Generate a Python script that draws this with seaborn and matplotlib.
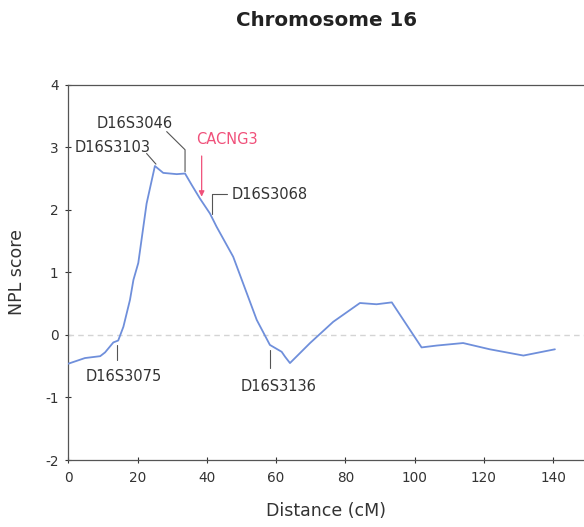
import matplotlib
matplotlib.use("Agg")
import matplotlib.pyplot as plt
import seaborn as sns
import pandas as pd

# NPL linkage scores along chromosome 16
distance_cm = [0, 4.8, 9.2, 10.6, 13.0, 14.4, 15.9, 17.8, 18.8, 20.2, 22.6, 25.0,
               27.4, 31.3, 33.7, 35.6, 38.0, 40.9, 42.8, 47.6, 54.4, 58.2, 61.6,
               62.6, 64.0, 69.8, 76.5, 84.2, 89.0, 93.4, 102.0, 106.4, 114.0,
               121.7, 131.4, 140.5]
npl_score = [-0.46, -0.37, -0.34, -0.28, -0.12, -0.09, 0.13, 0.56, 0.88, 1.15, 2.10, 2.70,
             2.59, 2.57, 2.58, 2.40, 2.18, 1.94, 1.73, 1.25, 0.24, -0.16, -0.27,
             -0.35, -0.45, -0.13, 0.21, 0.51, 0.49, 0.52, -0.20, -0.17, -0.13,
             -0.23, -0.33, -0.23]

x_ticks = [0, 20, 40, 60, 80, 100, 120, 140]
y_ticks = [-2, -1, 0, 1, 2, 3, 4]

# marker labels: name, text position, leader path
markers = ["D16S3103", "D16S3046", "D16S3068", "D16S3075", "D16S3136"]
marker_text_xy = [(12.7, 2.99), (19.2, 3.38), (47.2, 2.24), (16.0, -0.67), (60.8, -0.83)]
marker_text_ha = ["center", "center", "left", "center", "center"]
marker_leaders = [
    [(22.6, 2.90), (25.3, 2.73)],
    [(28.4, 3.25), (33.7, 2.96), (33.7, 2.61)],
    [(45.7, 2.25), (41.4, 2.25), (41.4, 1.94)],
    [(14.0, -0.16), (14.0, -0.40)],
    [(58.2, -0.24), (58.2, -0.53)],
]

gene_name = "CACNG3"
gene_text_xy = (45.7, 3.13)
gene_arrow = [(38.5, 2.86), (38.5, 2.21)]

sns.set_style("ticks")
plt.rcParams["font.family"] = ["DejaVu Sans"]
plt.rcParams["axes.unicode_minus"] = False

fig = plt.figure(figsize=(5.84, 5.27), dpi=100)
ax = fig.add_axes([0.117, 0.1271, 0.883, 0.7122])

df = pd.DataFrame({"Distance (cM)": distance_cm, "NPL score": npl_score})
sns.lineplot(data=df, x="Distance (cM)", y="NPL score", ax=ax,
             color="#6f8fdb", linewidth=1.3, zorder=3)

ax.axhline(0, color="#d4d4d4", linewidth=1.0, linestyle=(0, (4, 3)), zorder=1)

ax.set_xlim(0, 148.9)
ax.set_ylim(-2, 4)
ax.set_xticks(x_ticks)
ax.set_yticks(y_ticks)
ax.tick_params(axis="both", labelsize=9.8, colors="#333333", length=4,
               width=0.8, direction="inout")
ax.tick_params(axis="y", pad=5)
ax.tick_params(axis="x", pad=6)

for side in ["left", "bottom", "top"]:
    ax.spines[side].set_color("#555555")
    ax.spines[side].set_linewidth(0.9)
ax.spines["right"].set_visible(False)

ax.set_xlabel("Distance (cM)", fontsize=12.5, color="#333333", labelpad=12)
ax.set_ylabel("NPL score", fontsize=12.5, color="#333333", labelpad=14)

for name, (tx, ty), ha, path in zip(markers, marker_text_xy, marker_text_ha, marker_leaders):
    ax.text(tx, ty, name, fontsize=10.5, color="#333333", ha=ha, va="center")
    xs, ys = zip(*path)
    ax.plot(xs, ys, color="#555555", linewidth=0.8)

ax.text(*gene_text_xy, gene_name, fontsize=10.5, color="#f0507a", ha="center", va="center")
ax.annotate("", xy=gene_arrow[1], xytext=gene_arrow[0],
            arrowprops=dict(arrowstyle="-|>", color="#f0507a", lw=0.9,
                            mutation_scale=8, shrinkA=0, shrinkB=0))

fig.text(0.56, 0.962, "Chromosome 16", fontsize=14.3, fontweight="bold",
         color="#222222", ha="center", va="center")

fig.savefig("out.png", dpi=100)
